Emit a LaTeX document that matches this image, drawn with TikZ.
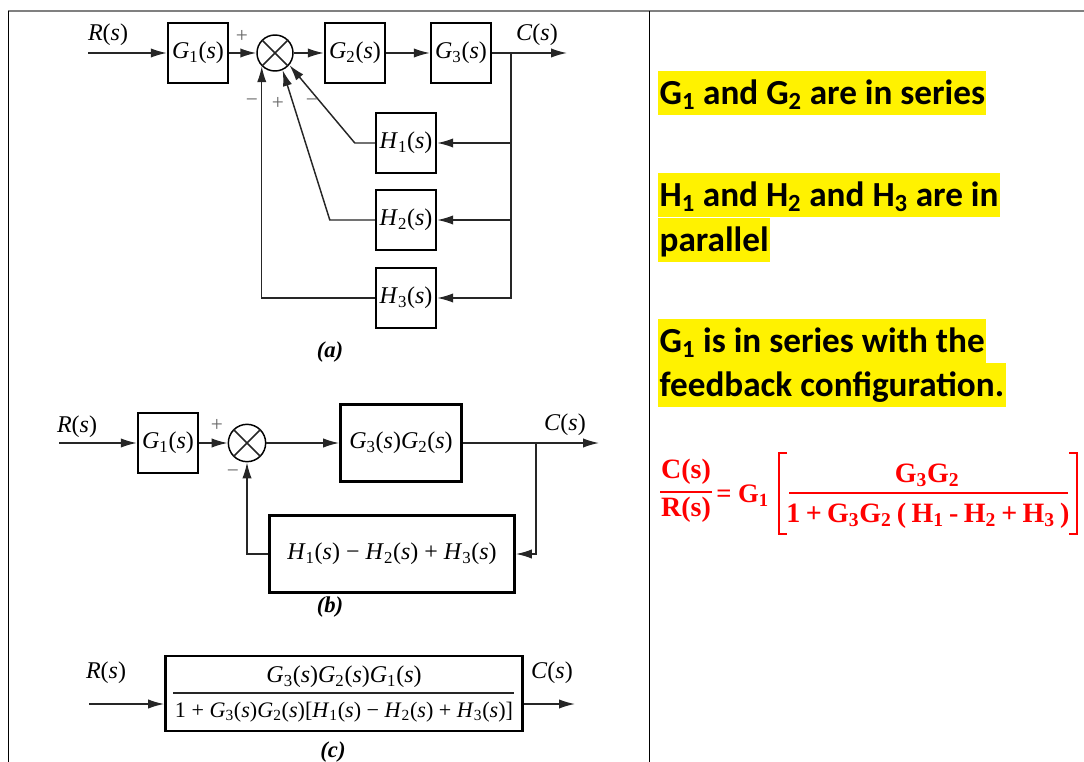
\documentclass[tikz,border=0pt]{standalone}
\usepackage{fontspec}
\setmainfont{Liberation Serif}
\newfontfamily\calib{Carlito}
\usetikzlibrary{arrows.meta}

% transfer function and signal labels
\newcommand{\tfn}[2]{\textit{#1}\textsubscript{#2}(\textit{s})}
\newcommand{\sig}[1]{\textit{#1}(\textit{s})}
\newcommand{\gp}{\hspace{4pt}}

\tikzset{
  blk/.style={draw, line width=1.8pt, minimum width=45pt, minimum height=45pt,
    inner sep=0pt, font=\fontsize{18}{20}\selectfont},
  sumjn/.style={draw, circle, line width=1.1pt, minimum size=27pt, inner sep=0pt},
  lbl/.style={inner sep=0pt, font=\fontsize{18}{20}\selectfont},
  sgn/.style={inner sep=0pt, text=black!60, font=\fontsize{16}{18}\selectfont},
  subcap/.style={inner sep=0pt, font=\fontsize{17}{19}\selectfont\bfseries\itshape},
  conn/.style={line width=1.1pt, draw=black!85},
  arr/.style={conn, -{Latex[length=12pt,width=7pt]}},
  hl/.style={fill=yellow, inner xsep=1pt, inner ysep=0pt, text height=25.5pt,
    text depth=7.5pt, anchor=base west, font=\calib\bfseries\fontsize{26.4}{34}\selectfont},
  eq/.style={text=red, inner sep=0pt, anchor=base, font=\fontsize{21}{24}\selectfont\bfseries},
  eqline/.style={draw=red, line width=1.1pt}
}

\begin{document}
\begin{tikzpicture}[x=0.75pt,y=-0.75pt]
    \useasboundingbox (0,0) rectangle (1084,762);

    % Table frame
    \draw[line width=1.5pt, black!50] (8,11) -- (1084,11);
    \draw[line width=0.7pt] (8,11) -- (8,762);
    \draw[line width=0.7pt] (649,11) -- (649,762);

    % (a) forward path
    \coordinate (aIn) at (88,53);
    \node[blk] (aG1) at (198,53) {\tfn{G}{1}};
    \node[sumjn] (aS) at (275,53) {};
    \draw[conn] (aS.north west) -- (aS.south east) (aS.north east) -- (aS.south west);
    \node[blk] (aG2) at (355,53) {\tfn{G}{2}};
    \node[blk] (aG3) at (461,53) {\tfn{G}{3}};
    \coordinate (aBr) at (511,53);
    \coordinate (aOut) at (567,53);
    \draw[arr] (aIn) -- (aG1);
    \draw[arr] (aG1) -- (aS);
    \draw[arr] (aS) -- (aG2);
    \draw[arr] (aG2) -- (aG3);
    \draw[arr] (aG3) -- (aOut);
    \node[lbl] at (108,35) {\sig{R}};
    \node[lbl] at (537,35) {\sig{C}};
    \node[sgn] at (242,36) {+};

    % (a) feedback blocks
    \node[blk] (aH1) at (406,143) {\tfn{H}{1}};
    \node[blk] (aH2) at (406,220) {\tfn{H}{2}};
    \node[blk] (aH3) at (406,298) {\tfn{H}{3}};
    \draw[arr] (aBr) |- (aH1.east);
    \draw[arr] (aBr) |- (aH2.east);
    \draw[arr] (aBr) |- (aH3.east);
    \draw[arr] (aH1.west) -- ++(-20,0) -- (aS.-40);
    \draw[arr] (aH2.west) -- ++(-45,0) -- (aS.-66);
    \draw[arr] (aH3.west) -| (aS.south west);
    \node[sgn] at (252,103) {\textminus};
    \node[sgn] at (278,103) {+};
    \node[sgn] at (312,103) {\textminus};
    \node[subcap] at (330,352) {(a)};

    % (b) reduced loop
    \coordinate (bIn) at (59,443);
    \node[blk] (bG1) at (168,443) {\tfn{G}{1}};
    \node[sumjn, minimum size=28pt] (bS) at (247,443) {};
    \draw[conn] (bS.north west) -- (bS.south east) (bS.north east) -- (bS.south west);
    \node[blk, minimum width=91pt, minimum height=58pt] (bG) at (401,443) {\tfn{G}{3}\tfn{G}{2}};
    \node[blk, minimum width=184pt, minimum height=58pt] (bH) at (392,554)
      {\tfn{H}{1} \textminus\ \tfn{H}{2} + \tfn{H}{3}};
    \coordinate (bBr) at (536,443);
    \coordinate (bOut) at (599,443);
    \draw[arr] (bIn) -- (bG1);
    \draw[arr] (bG1) -- (bS);
    \draw[arr] (bS) -- (bG);
    \draw[arr] (bG) -- (bOut);
    \draw[arr] (bBr) |- (bH.east);
    \draw[arr] (bH.west) -| (bS.south);
    \node[lbl] at (77,427) {\sig{R}};
    \node[lbl] at (565,425) {\sig{C}};
    \node[sgn] at (217,425) {+};
    \node[sgn] at (233,474) {\textminus};
    \node[subcap] at (330,607) {(b)};

    % (c) single block
    \coordinate (cIn) at (89,704);
    \coordinate (cOut) at (575,704);
    \node[blk, minimum width=268pt, minimum height=56pt] (cT) at (344,693.5) {};
    \node[lbl] (cNum) at (344,677) {\tfn{G}{3}\tfn{G}{2}\tfn{G}{1}};
    \node[lbl, font=\fontsize{16.6}{19}\selectfont] (cDen) at (344,712)
      {1 + \tfn{G}{3}\tfn{G}{2}[\tfn{H}{1} \textminus\ \tfn{H}{2} + \tfn{H}{3}]};
    \draw[conn] (173,693) -- (514,693);
    \draw[arr] (cIn) -- (cIn -| cT.west);
    \draw[arr] (cIn -| cT.east) -- (cOut);
    \node[lbl] at (106,673) {\sig{R}};
    \node[lbl] at (552,673) {\sig{C}};
    \node[subcap] at (333,752) {(c)};

    % Notes
    \node[hl] (t1) at (658,105) {G\textsubscript{1} and G\textsubscript{2} are in series};
    \node[hl] (t2) at (658,207) {H\textsubscript{1} and H\textsubscript{2} and H\textsubscript{3} are in};
    \node[hl] (t3) at (658,252) {parallel};
    \node[hl] (t4) at (658,353) {G\textsubscript{1} is in series with the};
    \node[hl] (t5) at (658,397) {feedback configuration.};

    % Closed-loop result
    \node[eq] (eC) at (686,478) {C(s)};
    \node[eq] (eR) at (686,516) {R(s)};
    \draw[eqline] (660,492) -- (712,492);
    \node[eq, anchor=base west, font=\fontsize{20}{24}\selectfont\bfseries] (eG) at (716,502) {= G\textsubscript{1}};
    \draw[red, line width=0.9pt] (787,453) -- (779,453) -- (779,534) -- (787,534);
    \draw[red, line width=0.9pt] (1069,453) -- (1077,453) -- (1077,534) -- (1069,534);
    \node[eq] (eN) at (927,482) {G\textsubscript{3}G\textsubscript{2}};
    \draw[eqline] (789,493) -- (1068,493);
    \node[eq] (eD) at (928,522)
      {1\gp+\gp G\textsubscript{3}G\textsubscript{2}\gp(\gp H\textsubscript{1}\gp-\gp H\textsubscript{2}\gp+\gp H\textsubscript{3}\gp)};
\end{tikzpicture}
\end{document}
